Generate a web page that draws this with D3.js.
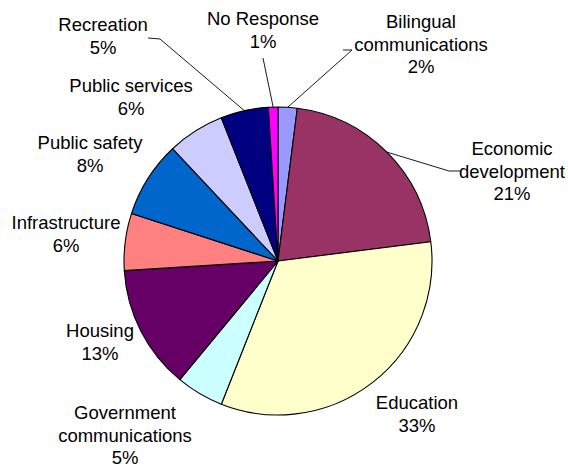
<!DOCTYPE html>
<html>
<head>
<meta charset="utf-8">
<script src="https://cdn.jsdelivr.net/npm/d3@7"></script>
<style>
  html, body { margin: 0; padding: 0; background: #fff; }
  svg { display: block; }
  text { font-family: "Liberation Sans", Arial, sans-serif; font-size: 18.5px; fill: #000; }
</style>
</head>
<body>
<svg id="chart" width="568" height="467"></svg>
<script>
// Survey responses by priority area (percent of respondents)
const categories = [
  "Bilingual communications", "Economic development", "Education",
  "Government communications", "Housing", "Infrastructure",
  "Public safety", "Public services", "Recreation", "No Response"
];
const shares = [2, 21, 33, 5, 13, 6, 8, 6, 5, 1];
const sliceColors = [
  "#9999FF", "#993366", "#FFFFCC", "#CCFFFF", "#660066",
  "#FF8080", "#0066CC", "#CCCCFF", "#000080", "#FF00FF"
];
// Label text split into lines
const labelLines = [
  ["Bilingual", "communications"], ["Economic", "development"], ["Education"],
  ["Government", "communications"], ["Housing"], ["Infrastructure"],
  ["Public safety"], ["Public services"], ["Recreation"], ["No Response"]
];

// Label placement: centre x and first baseline y; leader lines run from the
// slice edge to the given elbow points (if any)
const labelLayout = [
  { x: 421, y: 28,  leader: [[352, 50], [343, 50]] },
  { x: 512, y: 155, leader: [[449, 171], [460, 171]] },
  { x: 417, y: 409 },
  { x: 125, y: 419 },
  { x: 100, y: 337 },
  { x: 66,  y: 229 },
  { x: 90,  y: 149 },
  { x: 131, y: 92 },
  { x: 103, y: 31,  leader: [[160, 39], [148, 38]] },
  { x: 263, y: 25,  leader: [[263, 58]] }
];

const cx = 278, cy = 261, radius = 154, lineGap = 22.6;

const data = categories.map((c, i) => ({
  name: c, value: shares[i], color: sliceColors[i],
  lines: labelLines[i], layout: labelLayout[i]
}));

const svg = d3.select("#chart");
const g = svg.append("g").attr("transform", `translate(${cx},${cy})`);

const pie = d3.pie().value(d => d.value).sort(null);
const arc = d3.arc().innerRadius(0).outerRadius(radius);
const arcs = pie(data);

g.selectAll("path.slice")
  .data(arcs)
  .join("path")
  .attr("class", "slice")
  .attr("d", arc)
  .attr("fill", d => d.data.color)
  .attr("stroke", "#000")
  .attr("stroke-width", 1.1)
  .attr("stroke-linejoin", "round");

// Leader lines from slice edge midpoints
const edge = d3.arc().innerRadius(radius).outerRadius(radius);
const line = d3.line();
arcs.filter(d => d.data.layout.leader).forEach(d => {
  const [ex, ey] = edge.centroid(d);
  const pts = [[ex + cx, ey + cy]].concat(d.data.layout.leader);
  svg.append("path")
    .attr("d", line(pts))
    .attr("fill", "none")
    .attr("stroke", "#000")
    .attr("stroke-width", 0.9);
});

// Category labels with percentages
const labels = svg.selectAll("text.lbl")
  .data(arcs)
  .join("text")
  .attr("class", "lbl")
  .attr("text-anchor", "middle");

labels.each(function(d) {
  const t = d3.select(this);
  const { x, y } = d.data.layout;
  const rows = d.data.lines.concat([d3.format("d")(d.data.value) + "%"]);
  rows.forEach((r, k) => {
    t.append("tspan").attr("x", x).attr("y", y + k * lineGap).text(r);
  });
});
</script>
</body>
</html>
